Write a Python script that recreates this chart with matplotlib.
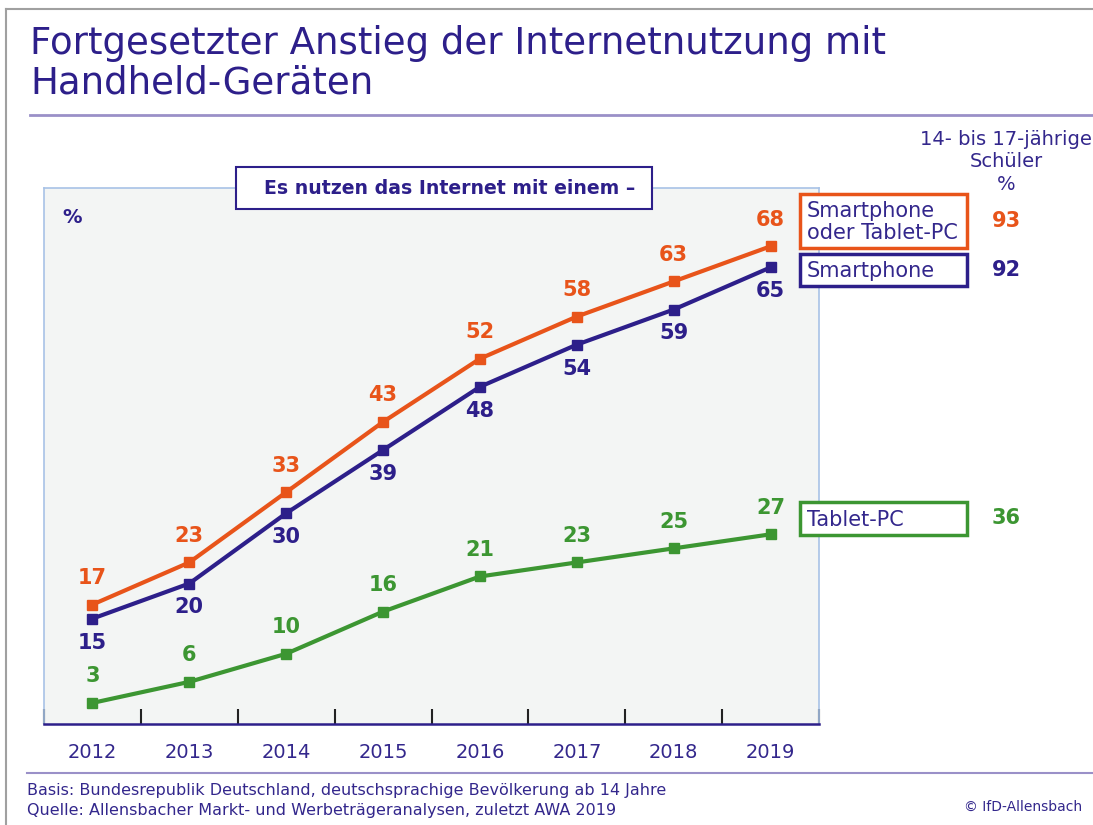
import matplotlib
matplotlib.use("Agg")
import matplotlib.pyplot as plt
from matplotlib.patches import Rectangle
from matplotlib.lines import Line2D

# ---- data ----
years = ["2012", "2013", "2014", "2015", "2016", "2017", "2018", "2019"]
smartphone_or_tablet = [17, 23, 33, 43, 52, 58, 63, 68]
smartphone = [15, 20, 30, 39, 48, 54, 59, 65]
tablet = [3, 6, 10, 16, 21, 23, 25, 27]
series_names = ["Smartphone\noder Tablet-PC", "Smartphone", "Tablet-PC"]
pupils_values = [93, 92, 36]

title = "Fortgesetzter Anstieg der Internetnutzung mit\nHandheld-Geräten"
box_title = "Es nutzen das Internet mit einem –"
pupils_header = "14- bis 17-jährige\nSchüler\n%"
footer1 = "Basis: Bundesrepublik Deutschland, deutschsprachige Bevölkerung ab 14 Jahre"
footer2 = "Quelle: Allensbacher Markt- und Werbeträgeranalysen, zuletzt AWA 2019"
copyright_txt = "© IfD-Allensbach"

# ---- style ----
PURPLE = "#2d1f8a"
TEXT = "#33278c"
ORANGE = "#e8541a"
GREEN = "#3c9632"
FONT = "DejaVu Sans"
plt.rcParams["font.family"] = [FONT]

W, H = 1093, 825
fig = plt.figure(figsize=(W / 100, H / 100), dpi=100)
fig.patch.set_facecolor("white")


def fx(x):
    return x / W


def fy(y):
    return 1 - y / H


# page border (top/left)
fig.add_artist(Line2D([fx(6), fx(6)], [fy(9), fy(825)], color="#a0a0a0", lw=1.5))
fig.add_artist(Line2D([fx(6), fx(1093)], [fy(9), fy(9)], color="#a0a0a0", lw=1.5))

# title and separators
fig.text(fx(30), fy(25), title, ha="left", va="top", fontsize=26.7,
         color=PURPLE, linespacing=1.08)
fig.add_artist(Line2D([fx(30), fx(1093)], [fy(115), fy(115)], color="#9a90c8", lw=2))
fig.add_artist(Line2D([fx(27), fx(1093)], [fy(773), fy(773)], color="#9a90c8", lw=1.5))

# axes
ax = fig.add_axes([fx(44), fy(724), fx(819) - fx(44), fy(188) - fy(724)])
ax.set_facecolor("#f3f5f4")
x = list(range(len(years)))
ax.set_xlim(-0.5, len(years) - 0.5)
ax.set_ylim(0, 76.3)

for vals, col in [(smartphone_or_tablet, ORANGE), (smartphone, PURPLE), (tablet, GREEN)]:
    ax.plot(x, vals, color=col, lw=3, marker="s", markersize=7.5, zorder=3)

for i in x:
    ax.annotate(str(smartphone_or_tablet[i]), (i, smartphone_or_tablet[i]),
                xytext=(0, 12), textcoords="offset points", ha="center", va="bottom",
                fontsize=15, fontweight="bold", color=ORANGE)
    ax.annotate(str(smartphone[i]), (i, smartphone[i]),
                xytext=(0, -10), textcoords="offset points", ha="center", va="top",
                fontsize=15, fontweight="bold", color=PURPLE)
    ax.annotate(str(tablet[i]), (i, tablet[i]),
                xytext=(0, 12), textcoords="offset points", ha="center", va="bottom",
                fontsize=15, fontweight="bold", color=GREEN)

ax.set_xticks(x)
ax.set_xticklabels(years, fontsize=14, color=TEXT)
ax.tick_params(axis="x", which="major", length=0, pad=14)
ax.set_xticks([i - 0.5 for i in range(len(years) + 1)], minor=True)
ax.tick_params(axis="x", which="minor", direction="in", length=11, width=1.5,
               color="#222222")
ax.set_yticks([])
for side in ["left", "top", "right"]:
    ax.spines[side].set_color("#a8c2e6")
    ax.spines[side].set_linewidth(1.2)
ax.spines["bottom"].set_color(PURPLE)
ax.spines["bottom"].set_linewidth(1.8)

# percent sign
fig.text(fx(72), fy(218), "%", ha="center", va="center", fontsize=14,
         fontweight="bold", color=PURPLE)

# box title
fig.add_artist(Rectangle((fx(236), fy(209)), fx(652) - fx(236), fy(167) - fy(209),
                         facecolor="white", edgecolor=PURPLE, lw=1.5))
fig.text(fx(449.5), fy(188), box_title, ha="center", va="center", fontsize=13.6,
         fontweight="bold", color=PURPLE)

# legend boxes
boxes = [((800, 194, 967, 248), ORANGE), ((800, 254, 967, 286), PURPLE),
         ((800, 502, 967, 535), GREEN)]
for (name, val, ((x0, y0, x1, y1), col)) in zip(series_names, pupils_values, boxes):
    fig.add_artist(Rectangle((fx(x0), fy(y1)), fx(x1) - fx(x0), fy(y0) - fy(y1),
                             facecolor="white", edgecolor=col, lw=2.5))
    fig.text(fx(x0 + 7), fy((y0 + y1) / 2 + 1), name, ha="left", va="center",
             fontsize=15, color=TEXT, linespacing=1.13)
    fig.text(fx(1006), fy((y0 + y1) / 2), str(val), ha="center", va="center",
             fontsize=15, fontweight="bold", color=col)

fig.text(fx(1006), fy(130), pupils_header, ha="center", va="top", fontsize=14,
         color=TEXT, linespacing=1.22)

# footer
fig.text(fx(27), fy(791), footer1, ha="left", va="center", fontsize=11.5, color=TEXT)
fig.text(fx(27), fy(811), footer2, ha="left", va="center", fontsize=11.5, color=TEXT)
fig.text(fx(1082), fy(807), copyright_txt, ha="right", va="center", fontsize=10,
         color=TEXT)

fig.savefig("out.png", dpi=100)
